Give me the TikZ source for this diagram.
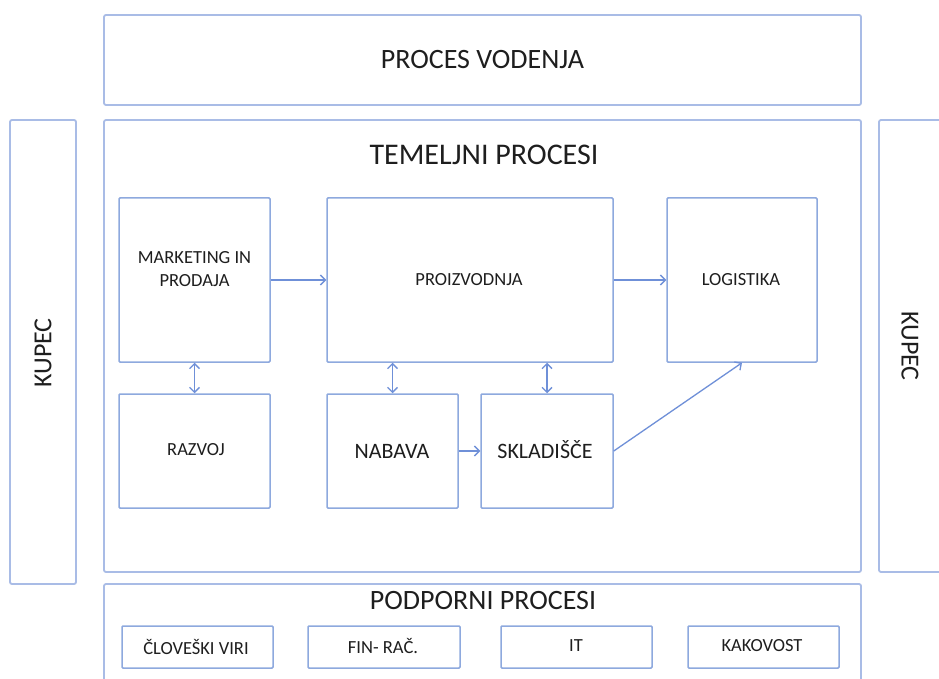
\documentclass[tikz,border=0pt]{standalone}
\usepackage{fontspec}
\setmainfont{Carlito}
\usetikzlibrary{arrows.meta}
\definecolor{outerblue}{HTML}{A9BCE6}
\definecolor{innerblue}{HTML}{8EA9DE}
\definecolor{arrowblue}{HTML}{6F90D8}
\definecolor{txt}{HTML}{1E1E1E}
\newcommand{\fs}[2]{\fontsize{#1}{#2}\selectfont}
\begin{document}
\begin{tikzpicture}[x=1pt,y=-1pt,
  outerbox/.style={draw=outerblue,line width=1.8pt,rounded corners=2pt,inner sep=0pt},
  innerbox/.style={draw=innerblue,line width=1.5pt,rounded corners=1pt,inner sep=0pt},
  lbl/.style={text=txt,inner sep=0pt,align=center},
  title/.style={lbl,font=\fs{28}{32}},
  small/.style={lbl,font=\fs{18.5}{23}},
  big/.style={lbl,font=\fs{22}{26}},
  tip/.tip={Straight Barb[length=5pt,width=10pt]},
  arr/.style={draw=arrowblue,line width=1.3pt,-tip},
  darr/.style={draw=arrowblue,line width=1.3pt,tip-tip}]
\clip (0,0) rectangle (939,679);
\fill[white] (0,0) rectangle (939,679);

% management process
\node[outerbox,minimum width=757pt,minimum height=90pt] (vod) at (482.5,60) {};
\node[title] (vodT) at (482.5,60) {PROCES VODENJA};

% customers on both sides
\node[outerbox,minimum width=66pt,minimum height=464pt] (kupL) at (43,352) {};
\node[title,font=\fs{26}{30},rotate=90] (kupLT) at (43,353) {KUPEC};
\node[outerbox,minimum width=64pt,minimum height=452pt] (kupR) at (911,346) {};
\node[title,font=\fs{26}{30},rotate=-90] (kupRT) at (910,346) {KUPEC};

% core processes
\node[outerbox,minimum width=757pt,minimum height=452pt] (tem) at (482.5,346) {};
\node[title,font=\fs{30}{34}] (temT) at (484,155) {TEMELJNI PROCESI};

\node[innerbox,minimum width=151pt,minimum height=164pt] (mkt) at (194.5,280) {};
\node[small] (mktT) at (194.5,269) {MARKETING IN\\PRODAJA};
\node[innerbox,minimum width=286pt,minimum height=164pt] (pro) at (470,280) {};
\node[small] (proT) at (469,280) {PROIZVODNJA};
\node[innerbox,minimum width=150pt,minimum height=164pt] (log) at (742,280) {};
\node[small] (logT) at (741,280) {LOGISTIKA};

\node[innerbox,minimum width=151pt,minimum height=114pt] (raz) at (194.5,451) {};
\node[small] (razT) at (196,450) {RAZVOJ};
\node[innerbox,minimum width=131pt,minimum height=114pt] (nab) at (392.5,451) {};
\node[big] (nabT) at (392,451) {NABAVA};
\node[innerbox,minimum width=132pt,minimum height=114pt] (skl) at (547,451) {};
\node[big] (sklT) at (545,450) {SKLADIŠČE};

% flows
\draw[arr] (mkt.east) -- (pro.west);
\draw[arr] (pro.east) -- (log.west);
\draw[darr] (mkt.south) -- (raz.north);
\draw[darr] (nab.north) -- (nab.north |- pro.south);
\draw[darr] (skl.north) -- (skl.north |- pro.south);
\draw[arr] (nab.east) -- (skl.west);
\draw[arr] (skl.east) -- (log.south);

% support processes
\node[outerbox,minimum width=757pt,minimum height=130pt] (pod) at (482.5,649) {};
\node[title] (podT) at (483,601) {PODPORNI PROCESI};
\node[innerbox,minimum width=151pt,minimum height=42pt] (clo) at (197.5,647) {};
\node[small] (cloT) at (196,647) {ČLOVEŠKI VIRI};
\node[innerbox,minimum width=152pt,minimum height=42pt] (fin) at (384,647) {};
\node[small] (finT) at (383,646) {FIN- RAČ.};
\node[innerbox,minimum width=151pt,minimum height=42pt] (it) at (576.5,647) {};
\node[small] (itT) at (576,646) {IT};
\node[innerbox,minimum width=151pt,minimum height=42pt] (kak) at (763.5,647) {};
\node[small] (kakT) at (762,646) {KAKOVOST};
\end{tikzpicture}
\end{document}
